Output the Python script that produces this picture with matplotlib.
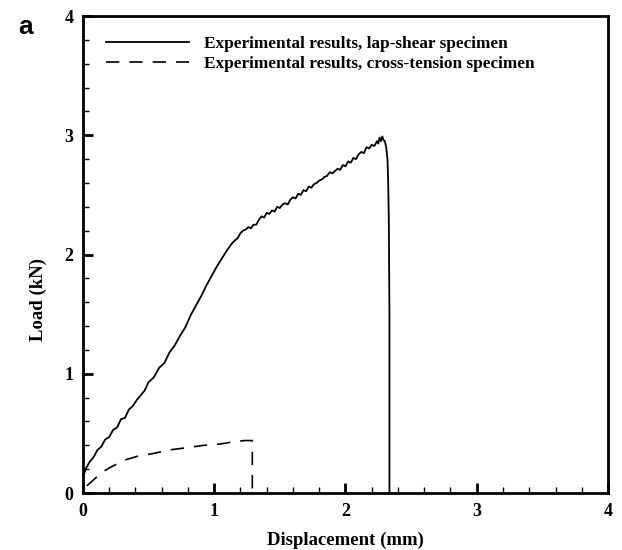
import numpy as np
import matplotlib
matplotlib.use("Agg")
import matplotlib.pyplot as plt
from matplotlib.ticker import MultipleLocator

# lap-shear specimen (displacement mm, load kN)
lap_x = [0.00, 0.02, 0.05, 0.08, 0.11, 0.14, 0.17, 0.20, 0.23, 0.26, 0.29, 0.32,
         0.35, 0.38, 0.41, 0.44, 0.47, 0.50, 0.54, 0.58, 0.62, 0.66, 0.70, 0.74,
         0.78, 0.82, 0.86, 0.90, 0.94, 0.98, 1.02, 1.06, 1.10, 1.14, 1.18,
         1.20, 1.22, 1.24, 1.26, 1.28, 1.30, 1.32, 1.34, 1.36, 1.38, 1.40, 1.42,
         1.44, 1.46, 1.48, 1.50, 1.52, 1.54, 1.56, 1.58, 1.60, 1.62, 1.64, 1.66,
         1.68, 1.70, 1.72, 1.74, 1.76, 1.78, 1.80, 1.82, 1.84, 1.86, 1.88, 1.90,
         1.92, 1.94, 1.96, 1.98, 2.00, 2.02, 2.04, 2.06, 2.08, 2.10, 2.12, 2.14,
         2.16, 2.18, 2.20, 2.22, 2.24, 2.25, 2.26, 2.27, 2.28, 2.29, 2.30, 2.31,
         2.32, 2.325, 2.33, 2.335, 2.335]
lap_y = [0.13, 0.20, 0.26, 0.30, 0.36, 0.39, 0.45, 0.47, 0.53, 0.55, 0.62, 0.63,
         0.70, 0.73, 0.78, 0.82, 0.86, 0.93, 0.97, 1.05, 1.09, 1.18, 1.24, 1.32,
         1.39, 1.49, 1.57, 1.65, 1.74, 1.82, 1.90, 1.97, 2.04, 2.10, 2.14,
         2.18, 2.20, 2.21, 2.23, 2.22, 2.25, 2.25, 2.29, 2.32, 2.31, 2.35, 2.34,
         2.37, 2.36, 2.40, 2.39, 2.42, 2.43, 2.42, 2.46, 2.48, 2.47, 2.51, 2.50,
         2.54, 2.53, 2.57, 2.56, 2.59, 2.60, 2.62, 2.63, 2.65, 2.66, 2.69, 2.68,
         2.70, 2.72, 2.71, 2.75, 2.74, 2.78, 2.77, 2.81, 2.80, 2.84, 2.86, 2.85,
         2.90, 2.89, 2.92, 2.91, 2.95, 2.93, 2.98, 2.95, 2.99, 2.96, 2.95, 2.90,
         2.80, 2.62, 2.30, 1.50, 0.00]

# cross-tension specimen
ct_x = [0.03, 0.08, 0.14, 0.20, 0.27, 0.33, 0.42, 0.53, 0.65, 0.79, 0.92, 1.04, 1.15, 1.23, 1.29, 1.29]
ct_y = [0.06, 0.11, 0.17, 0.21, 0.25, 0.28, 0.31, 0.33, 0.36, 0.38, 0.40, 0.41, 0.43, 0.44, 0.44, 0.00]

plt.rcParams["font.family"] = "Liberation Serif"
plt.rcParams["font.weight"] = "bold"

fig = plt.figure(figsize=(6.22, 5.5), dpi=100)
ax = fig.add_axes([0.1334, 0.1036, 0.8441, 0.8673])

ax.plot(lap_x, lap_y, color="black", linewidth=1.3,
        label="Experimental results, lap-shear specimen")
ax.plot(ct_x, ct_y, color="black", linewidth=1.2, linestyle=(0, (8, 6)),
        label="Experimental results, cross-tension specimen")

ax.set_xlim(0, 4)
ax.set_ylim(0, 4)
ax.xaxis.set_major_locator(MultipleLocator(1))
ax.yaxis.set_major_locator(MultipleLocator(1))
ax.xaxis.set_minor_locator(MultipleLocator(0.2))
ax.yaxis.set_minor_locator(MultipleLocator(0.2))
ax.tick_params(which="both", direction="in", top=False, right=False, labelsize=13)
ax.tick_params(which="major", length=7, width=2, pad=7)
ax.tick_params(which="minor", length=4, width=1)
for s in ax.spines.values():
    s.set_linewidth(2)

ax.set_xlabel("Displacement (mm)", fontsize=13.5, fontweight="bold")
ax.xaxis.set_label_coords(0.5, -0.082)
ax.set_ylabel("Load (kN)", fontsize=13.5, fontweight="bold")
ax.yaxis.set_label_coords(-0.068, 0.405)

ax.legend(loc="upper left", bbox_to_anchor=(0.015, 0.991), frameon=False,
          handlelength=4.8, handletextpad=0.85, labelspacing=0.24,
          prop={"family": "Liberation Serif", "weight": "bold", "size": 12.4})

fig.text(0.03, 0.972, "a", fontsize=19, fontweight="bold",
         family="Liberation Sans", va="top")

fig.savefig("out.png", dpi=100)
